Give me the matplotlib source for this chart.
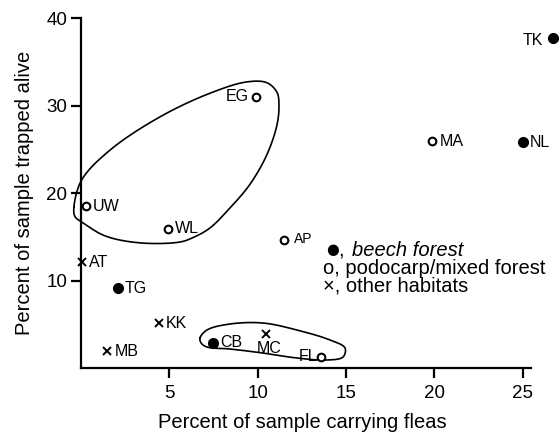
import numpy as np
import matplotlib.pyplot as plt

plt.rcParams['font.family'] = ['Liberation Sans', 'DejaVu Sans']

# sites: x = percent carrying fleas, y = percent trapped alive
names = ['TK', 'NL', 'MA', 'EG', 'UW', 'WL', 'AP', 'AT', 'TG', 'KK', 'MB', 'CB', 'MC', 'FL']
flea = [26.7, 25.0, 19.9, 9.9, 0.3, 4.9, 11.5, 0.05, 2.1, 4.4, 1.5, 7.5, 10.5, 13.6]
alive = [37.7, 25.8, 25.9, 31.0, 18.5, 15.9, 14.6, 12.1, 9.1, 5.1, 1.9, 2.9, 3.9, 1.3]
habitat = ['beech', 'beech', 'podo', 'podo', 'podo', 'podo', 'podo', 'other', 'beech',
           'other', 'other', 'beech', 'other', 'podo']
# where each name sits around its point
label_side = ['left', 'right', 'right', 'left', 'right', 'right', 'upright', 'right', 'right',
              'right', 'right', 'right', 'below', 'left']

# hand drawn group outlines
loop1_x = [-0.40, 0.04, 1.64, 4.47, 7.30, 9.40, 10.53, 11.10, 11.21, 11.10, 10.53, 9.57,
           8.44, 7.30, 6.34, 5.61, 3.34, 1.36, 0.11, -0.34]
loop1_y = [18.4, 21.5, 24.9, 28.7, 31.4, 32.7, 32.6, 31.5, 30.1, 27.8, 24.4, 21.0,
           18.3, 16.0, 14.9, 14.4, 14.3, 15.1, 16.6, 17.3]
loop2_x = [6.74, 7.13, 8.44, 10.31, 12.23, 14.10, 14.95, 14.84, 13.93, 12.23, 10.31, 8.44, 7.13, 6.80]
loop2_y = [3.43, 4.34, 5.03, 5.14, 4.34, 3.20, 2.29, 1.26, 0.91, 1.14, 1.71, 2.17, 2.40, 2.86]

key_symbols = ['●', 'o', '×']
key_labels = ['beech forest', 'podocarp/mixed forest', 'other habitats']


def closed_spline(xs, ys, n=30, aspect=2.02):
    # centripetal catmull-rom, closed, in roughly pixel-even space
    p = np.column_stack([np.array(xs) * aspect, ys])
    m = len(p)
    out = []
    for i in range(m):
        P = [p[i - 1], p[i], p[(i + 1) % m], p[(i + 2) % m]]
        t = [0.0]
        for a, b in zip(P[:-1], P[1:]):
            t.append(t[-1] + np.linalg.norm(b - a) ** 0.5)
        tt = np.linspace(t[1], t[2], n, endpoint=False)[:, None]
        A1 = (t[1] - tt) / (t[1] - t[0]) * P[0] + (tt - t[0]) / (t[1] - t[0]) * P[1]
        A2 = (t[2] - tt) / (t[2] - t[1]) * P[1] + (tt - t[1]) / (t[2] - t[1]) * P[2]
        A3 = (t[3] - tt) / (t[3] - t[2]) * P[2] + (tt - t[2]) / (t[3] - t[2]) * P[3]
        B1 = (t[2] - tt) / (t[2] - t[0]) * A1 + (tt - t[0]) / (t[2] - t[0]) * A2
        B2 = (t[3] - tt) / (t[3] - t[1]) * A2 + (tt - t[1]) / (t[3] - t[1]) * A3
        out.append((t[2] - tt) / (t[2] - t[1]) * B1 + (tt - t[1]) / (t[2] - t[1]) * B2)
    out = np.vstack(out + [out[0][:1]])
    return out[:, 0] / aspect, out[:, 1]


styles = {
    'beech': dict(marker='o', ms=7, mfc='black', mec='black', mew=1),
    'podo': dict(marker='o', ms=5.5, mfc='white', mec='black', mew=1.5),
    'other': dict(marker='x', ms=5.5, mec='black', mew=1.4),
}
offsets = {
    'right': ((5, 0), 'left', 'center'),
    'left': ((-5, 0), 'right', 'center'),
    'upright': ((7, -2), 'left', 'baseline'),
    'below': ((2, -5), 'center', 'top'),
}

fig = plt.figure(figsize=(5.59, 4.36), dpi=100)
ax = fig.add_axes([81 / 559, 68 / 436, 478 / 559, 350 / 436])

for lx, ly in [(loop1_x, loop1_y), (loop2_x, loop2_y)]:
    sx, sy = closed_spline(lx, ly)
    ax.plot(sx, sy, color='black', lw=1.2, clip_on=False)

for n, x, y, h, side in zip(names, flea, alive, habitat, label_side):
    ax.plot(x, y, ls='none', clip_on=False, zorder=3, **styles[h])
    off, ha, va = offsets[side]
    if n == 'TK':
        off = (-7, -2)
    if n == 'FL':
        off = (-3, 0)
    ax.annotate(n, (x, y), xytext=off, textcoords='offset points', ha=ha, va=va,
                fontsize=10 if side == 'upright' else 11.5)

ax.set_xlim(0, 478 / 17.66)
ax.set_ylim(0, 40)
ax.spines['top'].set_visible(False)
ax.spines['right'].set_visible(False)
ax.spines['bottom'].set_bounds(0, 25.5)
for s in ['left', 'bottom']:
    ax.spines[s].set_linewidth(1.6)
ax.set_xticks([5, 10, 15, 20, 25])
ax.set_yticks([10, 20, 30, 40])
ax.tick_params(direction='out', length=7, width=1.6, labelsize=13.5)
ax.tick_params(axis='x', pad=5.5)
ax.tick_params(axis='y', pad=3)
ax.set_xlabel('Percent of sample carrying fleas', fontsize=14.5)
ax.xaxis.set_label_coords((302 - 81) / 478, -(413 - 368) / 350)
ax.set_ylabel('Percent of sample trapped alive', fontsize=14.5, labelpad=9)

# typeset key, as in the printed figure
key_rows = [250, 268, 286]
key_sym_x = [326, 323, 323]
for i, (sym, lab, py, sx) in enumerate(zip(key_symbols, key_labels, key_rows, key_sym_x)):
    y = 1 - py / 436
    if i == 0:
        fig.text(sx / 559, y, sym, fontsize=10.5, va='center', ha='left', family='DejaVu Sans')
        fig.text(338 / 559, y, ',', fontsize=14.5, va='center', ha='left')
        fig.text(352 / 559, y, lab, fontsize=14.5, va='center', ha='left', fontstyle='italic')
    else:
        fig.text(sx / 559, y, sym + ', ' + lab, fontsize=14.5, va='center', ha='left')

fig.savefig('out.png', dpi=100)
